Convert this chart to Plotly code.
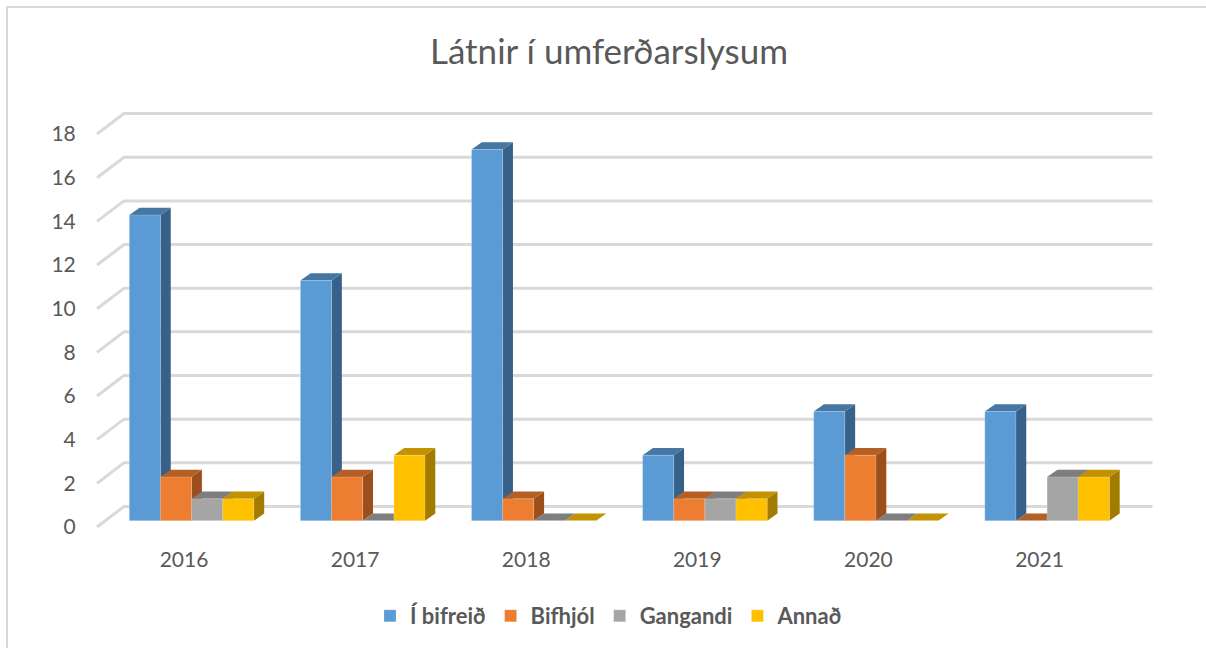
import plotly.graph_objects as go

# ---- data ----
years = ["2016", "2017", "2018", "2019", "2020", "2021"]
series_names = ["Í bifreið", "Bifhjól", "Gangandi", "Annað"]
i_bifreid = [14, 11, 17, 3, 5, 5]
bifhjol = [2, 2, 1, 1, 3, 0]
gangandi = [1, 0, 0, 1, 0, 2]
annad = [1, 3, 0, 1, 0, 2]
y_ticks = [0, 2, 4, 6, 8, 10, 12, 14, 16, 18]
title_text = "Látnir í umferðarslysum"

# ---- style ----
series_values = [i_bifreid, bifhjol, gangandi, annad]
front_colors = ["#5B9BD5", "#ED7D31", "#A5A5A5", "#FFC000"]
top_colors = ["#4676A2", "#B45F25", "#7E7E7E", "#C29200"]
side_colors = ["#376188", "#9C4F1D", "#6B6B6B", "#A27C00"]
TEXT = "#595959"
GRID = "#D9D9D9"
FONT = "Lato, Carlito, 'Open Sans', sans-serif"

# ---- pixel geometry of the chart scales ----
W, H = 1206, 648
PX_CAT = 171.1      # px per category
PX_UNIT = 21.83     # px per value unit
X_LEFT = 84         # left edge of x domain in px
Y_BOTTOM = 545      # bottom of y domain in px
LABEL_CX = 184      # px centre of first category label
FRONT_Y0 = 527      # px of value 0 at the front of the floor
BAR_Y0 = 520.7      # px of value 0 at the bars' base
BAR_CX = 191.6      # px centre of first bar group
BAR_W = 31.15 / PX_CAT
DEPTH_X = 10.3 / PX_CAT
DEPTH_Y = 7.3 / PX_UNIT
WALL_X = 27 / PX_CAT
WALL_Y = 20.5 / PX_UNIT
GRID_X0 = (97 - LABEL_CX) / PX_CAT
GRID_X1 = (1152.5 - LABEL_CX) / PX_CAT


def x_range(cx):
    return [(X_LEFT - cx) / PX_CAT, (W - cx) / PX_CAT]


def y_range(y0):
    return [(y0 - Y_BOTTOM) / PX_UNIT, y0 / PX_UNIT]


fig = go.Figure()

# back wall gridlines with their diagonal floor-to-wall stubs
gx, gy = [], []
for t in y_ticks:
    gx += [GRID_X0, GRID_X0 + WALL_X, GRID_X1, None]
    gy += [t, t + WALL_Y, t + WALL_Y, None]
fig.add_trace(go.Scatter(x=gx, y=gy, mode="lines", showlegend=False, hoverinfo="skip",
                         line=dict(color=GRID, width=3), xaxis="x", yaxis="y"))

# side and top faces of the bars
n = len(series_names)
for s, vals in enumerate(series_values):
    sx, sy, tx, ty = [], [], [], []
    for c, v in enumerate(vals):
        x0 = c + (s - n / 2) * BAR_W
        x1 = x0 + BAR_W
        sx += [x1, x1 + DEPTH_X, x1 + DEPTH_X, x1, x1, None]
        sy += [0, DEPTH_Y, v + DEPTH_Y, v, 0, None]
        tx += [x0, x0 + DEPTH_X, x1 + DEPTH_X, x1, x0, None]
        ty += [v, v + DEPTH_Y, v + DEPTH_Y, v, v, None]
    fig.add_trace(go.Scatter(x=sx, y=sy, mode="none", fill="toself", fillcolor=side_colors[s],
                             showlegend=False, hoverinfo="skip", xaxis="x2", yaxis="y2"))
    fig.add_trace(go.Scatter(x=tx, y=ty, mode="none", fill="toself", fillcolor=top_colors[s],
                             showlegend=False, hoverinfo="skip", xaxis="x2", yaxis="y2"))

# front faces of the bars
for s, vals in enumerate(series_values):
    fig.add_trace(go.Bar(name=series_names[s], x=list(range(len(years))), y=vals,
                         marker=dict(color=front_colors[s],
                                     line=dict(color="rgba(255,255,255,0.2)", width=1)),
                         xaxis="x3", yaxis="y3"))

dom_x = [X_LEFT / W, 1]
dom_y = [1 - Y_BOTTOM / H, 1]
hidden = dict(visible=False, fixedrange=True)

fig.update_layout(
    width=W, height=H, autosize=False,
    margin=dict(l=0, r=0, t=0, b=0),
    paper_bgcolor="white", plot_bgcolor="rgba(0,0,0,0)",
    font=dict(family=FONT, color=TEXT, size=20),
    barmode="group", bargap=1 - 4 * BAR_W, bargroupgap=0,
    title=dict(text=title_text, x=609 / W, xanchor="center", y=1 - 52 / H, yanchor="middle",
               font=dict(family=FONT, size=35, color=TEXT, weight=400)),
    xaxis=dict(domain=dom_x, range=x_range(LABEL_CX), tickmode="array",
               tickvals=list(range(len(years))), ticktext=years, showgrid=False, zeroline=False,
               showline=False, ticks="", tickfont=dict(size=21, color=TEXT), fixedrange=True),
    yaxis=dict(domain=dom_y, range=y_range(FRONT_Y0), tickmode="array", tickvals=y_ticks,
               ticktext=[str(t) for t in y_ticks], showgrid=False, zeroline=False, showline=False,
               ticks="outside", ticklen=3, tickcolor="rgba(0,0,0,0)",
               tickfont=dict(size=21, color=TEXT), fixedrange=True),
    xaxis2=dict(domain=dom_x, range=x_range(BAR_CX), overlaying="x", anchor="y2", **hidden),
    yaxis2=dict(domain=dom_y, range=y_range(BAR_Y0), overlaying="y", anchor="x2", **hidden),
    xaxis3=dict(domain=dom_x, range=x_range(BAR_CX), overlaying="x", anchor="y3", **hidden),
    yaxis3=dict(domain=dom_y, range=y_range(BAR_Y0), overlaying="y", anchor="x3", **hidden),
    legend=dict(orientation="h", x=609 / W, xanchor="center", y=1 - 616 / H, yanchor="middle",
                font=dict(size=22, color=TEXT, weight=700), bgcolor="rgba(0,0,0,0)"),
    shapes=[dict(type="rect", xref="paper", yref="paper", x0=7 / W, x1=1.5, y0=-0.5, y1=1 - 7 / H,
                 line=dict(color=GRID, width=2), fillcolor="rgba(0,0,0,0)", layer="below")],
)

fig.write_html("out.html", config=dict(displayModeBar=False),
               post_script="document.body.style.margin='0';document.documentElement.style.overflow='hidden';")
